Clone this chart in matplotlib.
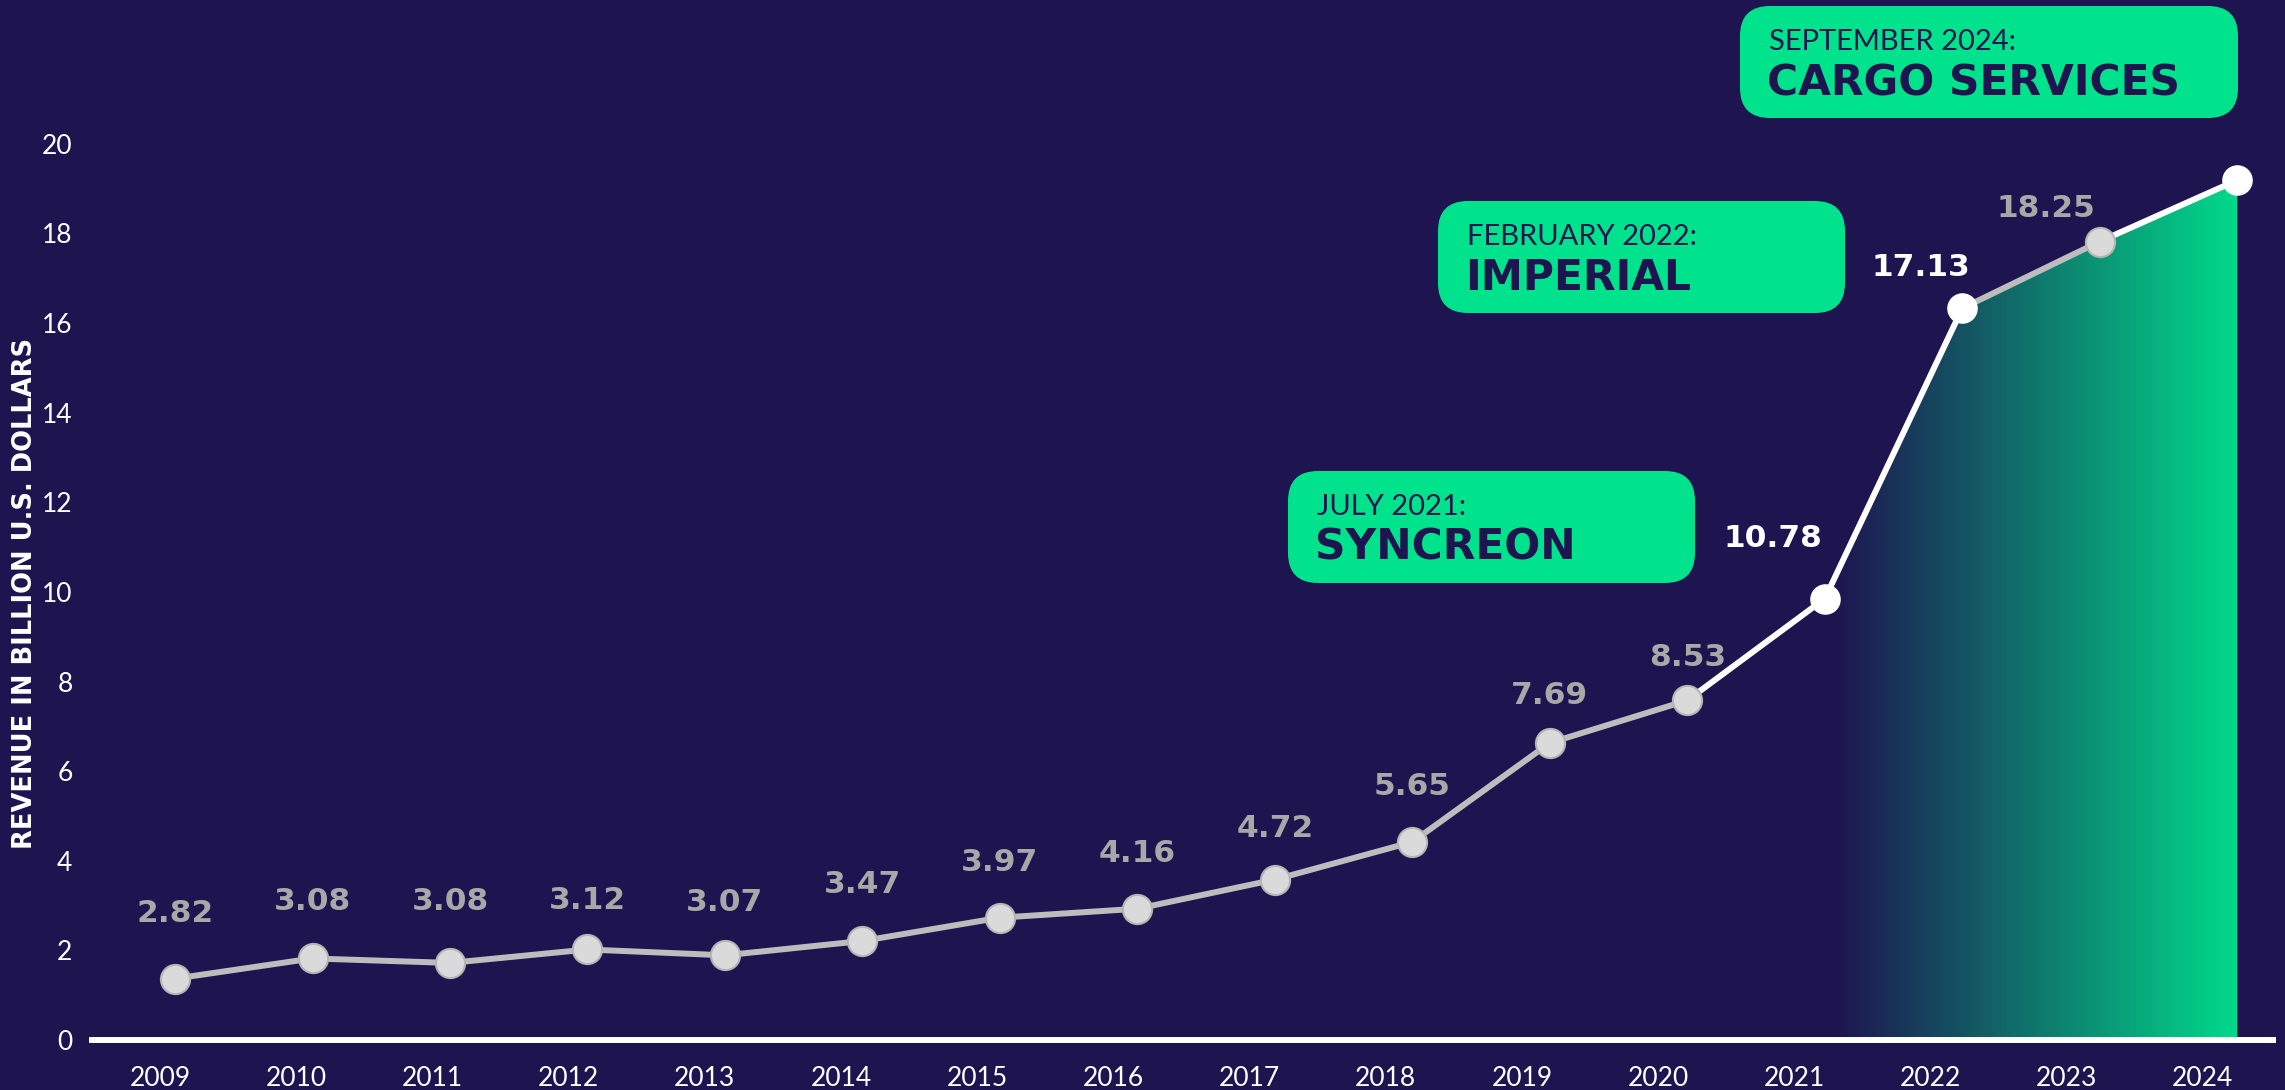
import numpy as np
import matplotlib
matplotlib.use('Agg')
import matplotlib.pyplot as plt
from matplotlib.patches import FancyBboxPatch
from matplotlib.colors import LinearSegmentedColormap
from matplotlib.transforms import IdentityTransform

# revenue chart, values
years = [2009, 2010, 2011, 2012, 2013, 2014, 2015, 2016,
         2017, 2018, 2019, 2020, 2021, 2022, 2023, 2024]
# where the dots sit on the y scale
point_vals = [1.37, 1.82, 1.72, 2.02, 1.89, 2.21, 2.73, 2.93,
              3.58, 4.42, 6.63, 7.58, 9.85, 16.33, 17.82, 19.19]
# printed labels (none for 2024)
label_vals = [2.82, 3.08, 3.08, 3.12, 3.07, 3.47, 3.97, 4.16,
              4.72, 5.65, 7.69, 8.53, 10.78, 17.13, 18.25]
label_txt = ['2.82', '3.08', '3.08', '3.12', '3.07', '3.47', '3.97', '4.16',
             '4.72', '5.65', '7.69', '8.53', '10.78', '17.13', '18.25']
highlight = [False] * 12 + [True, True, False, True]

events = [('JULY 2021:', 'SYNCREON'),
          ('FEBRUARY 2022:', 'IMPERIAL'),
          ('SEPTEMBER 2024:', 'CARGO SERVICES')]

BG = '#1e1550'
GREEN = '#00e38c'
GREY_LINE = '#bdbdbd'
GREY_DOT = '#dadada'
GREY_TXT = '#a8a8a8'

W, H = 2285, 1090
fig = plt.figure(figsize=(W / 100, H / 100), dpi=100, facecolor=BG)
ax = fig.add_axes([92 / W, 50 / H, (2273 - 92) / W, 1040 / H])
ax.set_facecolor(BG)
ax.set_xlim(2008.396, 2024.26)
ax.set_ylim(0, 23.21)

# gradient area under last part of the line
x = np.array(years, dtype=float)
y = np.array(point_vals)
i0 = years.index(2021)
poly = ax.fill_between(x[i0:], 0, y[i0:], color='none', lw=0)
cmap = LinearSegmentedColormap.from_list('g', [BG, '#00dc8a'])
grad = np.linspace(0, 1, 256).reshape(1, -1)
im = ax.imshow(grad, cmap=cmap, aspect='auto',
               extent=[x[i0] + 0.08, x[-1] + 0.03, 0, y[-1]], zorder=1)
im.set_clip_path(poly.get_paths()[0], transform=ax.transData)

# line segments
for i in range(len(years) - 1):
    col = 'white' if highlight[i + 1] else GREY_LINE
    if i == 11:
        col = 'white'
    ax.plot(x[i:i + 2], y[i:i + 2], color=col, lw=4.3, zorder=3,
            solid_capstyle='round')

for i in range(len(years)):
    if highlight[i]:
        ax.plot(x[i], y[i], 'o', ms=21, mfc='white', mec='white', zorder=4)
    else:
        ax.plot(x[i], y[i], 'o', ms=21, mfc=GREY_DOT, mec='#b5b5b5',
                mew=1.5, zorder=4)

# value labels
offs = {12: (-52, 18), 13: (-41, 5), 14: (-54, 14)}
for i, (v, t) in enumerate(zip(label_vals, label_txt)):
    dx, dy = offs.get(i, (0, 0))
    col = 'white' if highlight[i] else GREY_TXT
    ax.annotate(t, (x[i], v), xytext=(dx * 0.72, dy * 0.72),
                textcoords='offset points', ha='center', va='center',
                fontsize=22.5, fontweight='heavy', color=col,
                family='DejaVu Sans', zorder=5)

# axes styling
for s in ['top', 'right', 'left']:
    ax.spines[s].set_visible(False)
ax.spines['bottom'].set_color('white')
ax.spines['bottom'].set_linewidth(4.3)
# year labels sit a little left of the dots, drifting further to the right
ax.set_xticks(x - np.linspace(0.11, 0.25, len(years)))
ax.set_xticklabels([str(v) for v in years])
ax.set_yticks(range(0, 21, 2))
ax.tick_params(length=0, colors='white', labelsize=19)
ax.tick_params(axis='x', pad=19)
ax.tick_params(axis='y', pad=14)
for lab in ax.get_xticklabels() + ax.get_yticklabels():
    lab.set_family('Lato')
    lab.set_fontweight('normal')
fig.text(25 / W, 1 - 407 * 1.4573 / H, 'REVENUE IN BILLION U.S. DOLLARS',
         rotation=90, ha='center', va='center', color='white',
         fontsize=18.5, fontweight='heavy', family='DejaVu Sans')

# event boxes (pixel coords, y from top)
boxes = [(1288, 471, 1695, 583), (1438, 201, 1845, 313), (1740, 6, 2238, 118)]
for (x0, y0, x1, y1), (small, big) in zip(boxes, events):
    r = 30
    p = FancyBboxPatch((x0 + r, H - y1 + r), x1 - x0 - 2 * r, y1 - y0 - 2 * r,
                       boxstyle='round,pad=%d,rounding_size=%d' % (r, r),
                       transform=IdentityTransform(), facecolor=GREEN,
                       edgecolor='none', zorder=6)
    fig.patches.append(p)
    fig.text((x0 + 29) / W, 1 - (y0 + 36) / H, small, ha='left', va='center',
             color=BG, fontsize=21, fontweight='normal', family='Lato', zorder=7)
    fig.text((x0 + 27) / W, 1 - (y0 + 77) / H, big, ha='left', va='center',
             color=BG, fontsize=30.5, fontweight='heavy', family='DejaVu Sans',
             zorder=7)

fig.savefig('out.png', dpi=100, facecolor=BG)
